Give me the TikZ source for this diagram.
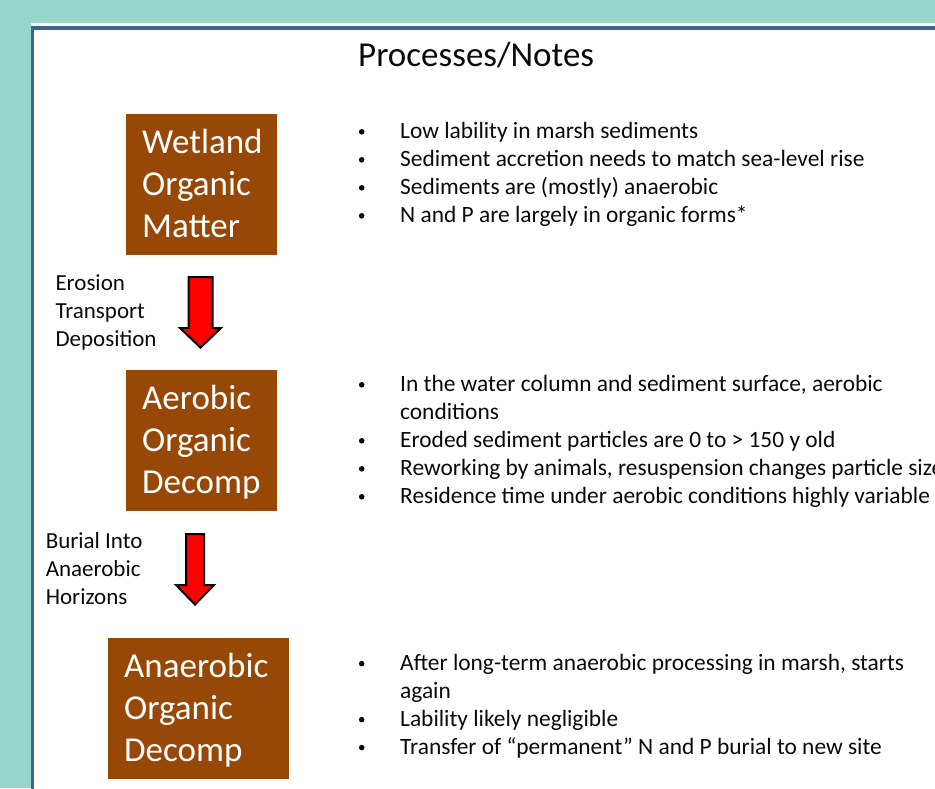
\documentclass[tikz,border=0pt]{standalone}
\usepackage{fontspec}
\setmainfont{Carlito}
\definecolor{bgteal}{RGB}{150,213,204}
\definecolor{bordblue}{RGB}{62,100,148}
\definecolor{boxbrown}{RGB}{151,72,6}
\definecolor{txt}{RGB}{10,10,10}
\newcommand\fsz[2]{\fontsize{#1pt}{#2pt}\selectfont}
\newcommand\bs{\rule[-8pt]{0pt}{28pt}}
\newcommand\bigs{\rule[-10.5pt]{0pt}{42pt}}
\tikzset{
  boxnode/.style={fill=boxbrown, text=white, anchor=north west, inner xsep=16pt, inner ysep=0pt,
    minimum height=141pt, align=left, font=\fsz{35}{42}},
  itemtext/.style={anchor=north west, inner sep=0pt, align=left, text=txt, font=\fsz{23.4}{28}},
  labeltext/.style={anchor=north west, inner sep=0pt, align=left, text=txt, font=\fsz{23}{28}},
  bulletdot/.style={fill=txt},
  blockarrow/.style={fill=red, draw=black, line width=2pt, line join=miter},
}
\newcommand\barrow[6]{\draw[blockarrow] (#1-#5,#2) -- (#1+#5,#2) -- (#1+#5,#3) -- (#1+#6,#3) -- (#1,#4) -- (#1-#6,#3) -- (#1-#5,#3) -- cycle;}
\newcommand\bul[1]{\fill[bulletdot] (361.7,#1-6.9) circle[radius=2.8pt];}
\begin{document}
\begin{tikzpicture}[x=1pt,y=-1pt]
\useasboundingbox (0,0) rectangle (935,788);
\clip (0,0) rectangle (935,788);
\fill[bgteal] (0,0) rectangle (935,788);
\fill[white] (31,23.3) rectangle (945,800);
\draw[bordblue, line width=3.4pt] (32.7,800) -- (32.7,27.8) -- (945,27.8);

% title
\node[anchor=base west, inner sep=0pt, text=txt, font=\fsz{35}{40}] (title) at (358,66) {Processes/Notes};

% boxes
\node[boxnode, minimum width=151pt, text width=119pt] (b1) at (126,114) {\bigs Wetland\\\bigs Organic\\\bigs Matter};
\node[boxnode, minimum width=151pt, text width=119pt] (b2) at (126,370) {\bigs Aerobic\\\bigs Organic\\\bigs Decomp};
\node[boxnode, minimum width=181pt, text width=149pt] (b3) at (108,638) {\bigs Anaerobic\\\bigs Organic\\\bigs Decomp};

% arrows
\barrow{200.5}{277}{328}{347.6}{12}{20.5}
\barrow{195}{534}{585}{604.6}{9}{19}

% arrow labels
\node[labeltext] (l1) at (55.3,270.7) {\bs Erosion\\\bs Transport\\\bs Deposition};
\node[labeltext] (l2) at (45.6,528.3) {\bs Burial Into\\\bs Anaerobic\\\bs Horizons};

% group 1
\node[itemtext] (n11) at (400,118.7) {\bs Low lability in marsh sediments};
\node[itemtext] (n12) at (400,146.7) {\bs Sediment accretion needs to match sea-level rise};
\node[itemtext] (n13) at (400,174.7) {\bs Sediments are (mostly) anaerobic};
\node[itemtext] (n14) at (400,202.7) {\bs N and P are largely in organic forms*};
\bul{138.7}\bul{166.7}\bul{194.7}\bul{222.7}

% group 2
\node[itemtext] (n21) at (400,371.7) {\bs In the water column and sediment surface, aerobic\\\bs conditions};
\node[itemtext] (n22) at (400,427.7) {\bs Eroded sediment particles are 0 to > 150 y old};
\node[itemtext] (n23) at (400,455.7) {\bs Reworking by animals, resuspension changes particle size};
\node[itemtext] (n24) at (400,483.7) {\bs Residence time under aerobic conditions highly variable};
\bul{391.7}\bul{447.7}\bul{475.7}\bul{503.7}

% group 3
\node[itemtext] (n31) at (400,650.5) {\bs After long-term anaerobic processing in marsh, starts\\\bs again};
\node[itemtext] (n32) at (400,706.5) {\bs Lability likely negligible};
\node[itemtext] (n33) at (400,734.5) {\bs Transfer of “permanent” N and P burial to new site};
\bul{670.5}\bul{726.5}\bul{754.5}
\end{tikzpicture}
\end{document}
